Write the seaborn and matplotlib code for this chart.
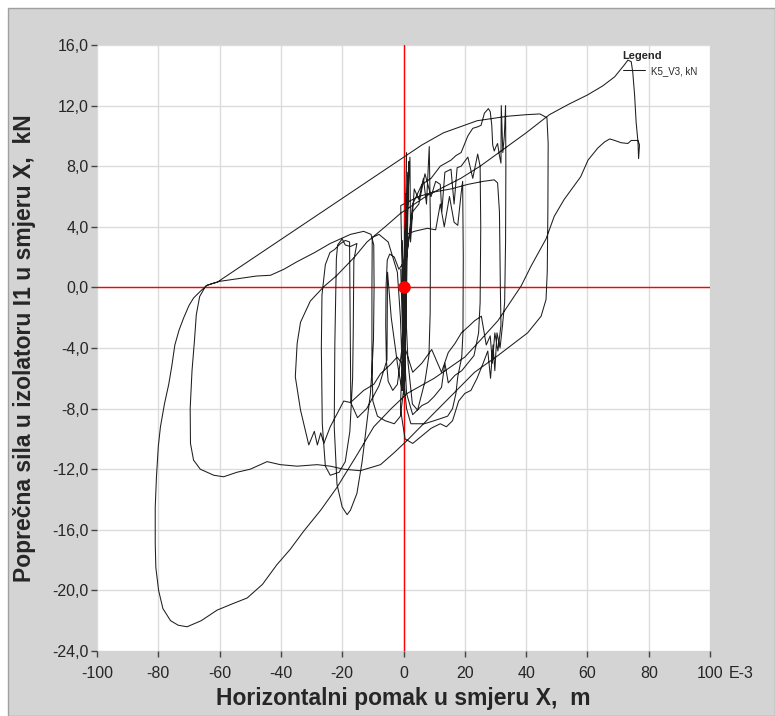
import numpy as np
import pandas as pd
import matplotlib
matplotlib.use('Agg')
import matplotlib.pyplot as plt
import seaborn as sns
from matplotlib.patches import Rectangle
from matplotlib.ticker import FuncFormatter

# --- Data: force/displacement trace, split into the visible branches ---
# x in E-3 m, y in kN
jitter_x = [0, 0.4, -0.3, 0.7, -0.2, 1.0, 0.5, -0.5, 0.9, -0.2, 1.4, 0.2, -0.4, 0.8, 1.7, 0.1, -0.9, 0.5, 1.2, -0.2,
            0.3, -0.3, 0.5, -0.2, 0.6]
jitter_y = [0, 2.6, -3.2, 4.8, -5.4, 8.9, -1.2, -6.6, 6.2, -4.2, 7.6, -7.1, 3.1, -2.6, 8.3, -5.9, 1.2, -4.7, 5.3, -6.8,
            -2.0, -6.0, -1.0, -5.5, 1.8]

left_small_x = [-1.5, -3.0, -4.5, -5.3, -5.7, -5.8, -5.6, -5.0, -3.5, -2.0, -0.5]
left_small_y = [1.2, 2.0, 2.2, 1.8, 0.0, -2.5, -4.8, -6.2, -6.8, -6.4, -4.0]

loop8_x = [0.5, 2.1, 2.3, 3.5, 5.0, 6.5, 7.5, 8.4, 8.8, 8.7, 8.3, 7.0, 4.6, 2.9, 1.5, 0.6]
loop8_y = [2.0, 8.6, 3.0, 6.5, 5.8, 7.2, 5.5, 9.3, 4.0, -1.7, -4.5, -6.2, -8.1, -7.7, -5.0, -1.0]

loop19_x = [1.0, 3.5, 7.8, 10.5, 12.0, 13.3, 15.0, 16.5, 17.7, 18.8, 19.3, 19.5, 19.4, 19.0, 17.7, 17.1, 16.0, 14.4,
            10.0, 6.8, 2.4, 1.0, -0.5]
loop19_y = [3.5, 3.7, 3.9, 3.8, 5.5, 4.0, 6.0, 4.3, 4.1, 6.2, 7.0, 2.0, -3.0, -4.6, -5.9, -7.0, -8.0, -8.5,
            -8.8, -9.0, -9.0, -8.0, -5.0]

loop_m10_x = [-1.0, -2.0, -5.0, -8.0, -10.2, -10.3, -10.3, -10.0, -8.5, -6.0, -3.0, -1.0, 0.5]
loop_m10_y = [-2.0, 1.0, 3.0, 3.5, 3.3, 0.0, -5.0, -7.5, -8.5, -8.8, -9.0, -8.5, -6.0]

loop25_x = [1.0, 3.0, 5.0, 7.0, 9.0, 10.5, 12.0, 12.5, 13.5, 15.5, 16.5, 17.5, 18.8, 21.0, 22.6, 24.2, 25.0, 25.2, 25.0,
            24.5, 23.0, 21.0, 19.0, 16.8, 14.6, 13.5, 12.4, 10.0, 8.0, 6.0, 3.0, 1.0]
loop25_y = [2.0, 5.0, 5.5, 7.5, 6.0, 7.0, 6.8, 5.0, 7.6, 7.8, 5.5, 7.9, 8.0, 8.6, 7.2, 8.8, 8.0, 4.0, -1.0,
            -3.0, -4.5, -5.0, -5.5, -5.8, -6.3, -5.0, -6.6, -7.2, -7.6, -7.8, -8.4, -7.0]

loop31_x = [0.0, -0.9, 2.0, 5.0, 10.0, 15.5, 21.0, 26.0, 29.6, 30.7, 31.3, 31.6, 31.8, 30.8, 29.8, 29.0, 28.3, 27.0,
            25.4, 23.2, 21.1, 18.9, 16.8, 14.6, 12.4, 9.2, 6.0, 3.0, 0.5]
loop31_y = [-3.0, 5.4, 5.7, 6.0, 6.3, 6.5, 6.8, 7.0, 7.1, 6.9, 5.0, 0.0, -2.5, -4.2, -3.0, -5.0, -3.2, -3.8,
            -1.9, -2.2, -2.6, -3.0, -3.7, -4.3, -5.6, -4.1, -5.0, -5.6, -4.0]

loop33_x = [0.5, 1.0, 3.0, 6.0, 9.0, 12.0, 15.5, 17.1, 18.8, 21.0, 22.6, 24.2, 25.3, 26.4, 27.7, 28.3, 28.8, 29.1,
            29.6, 30.2, 30.7, 31.3, 31.8, 31.9, 32.4, 32.9, 33.3, 33.4, 33.3, 33.0, 32.3, 31.5, 30.5, 29.8, 29.2,
            28.4, 27.5, 26.0, 24.0, 22.0, 20.0, 18.0, 16.0, 14.0, 12.0, 9.0, 6.0, 3.0, 0.5, -1.0]
loop33_y = [-4.0, 2.0, 5.5, 6.8, 7.2, 8.0, 8.4, 8.7, 8.9, 10.0, 10.5, 10.6, 10.7, 11.5, 11.8, 11.6, 10.7, 9.4,
            9.0, 9.3, 9.5, 8.7, 8.2, 12.0, 8.9, 10.0, 12.0, 8.0, 3.0, -1.0, -2.5, -4.0, -3.0, -5.5, -3.8,
            -6.0, -4.2, -5.0, -6.0, -6.8, -7.0, -7.5, -8.8, -9.2, -9.0, -9.3, -9.8, -10.3, -10.0, -8.0]

# W-shaped bottom, left turn at -35, rise to the peak
w_loop_x = [-0.5, -2.1, -4.3, -7.5, -9.7, -13.0, -17.3, -19.5, -23.9, -26.0, -27.0, -28.1, -29.1, -30.9, -33.6,
            -35.3, -34.7, -33.6, -30.4, -26.0, -21.7, -16.0, -11.9, -6.0, -0.9, 8.0, 18.7, 25.0, 31.8, 40.0,
            47.6, 54.0, 60.0, 65.0, 68.9, 72.1, 73.2, 74.3, 74.8, 75.4, 75.9, 76.5, 76.7]
w_loop_y = [-5.0, -4.6, -5.1, -5.7, -6.4, -6.8, -7.6, -7.5, -9.2, -10.3, -9.6, -10.4, -9.5, -10.4, -8.1,
            -5.9, -3.7, -2.3, -0.9, 0.05, 0.8, 2.0, 3.0, 4.0, 4.9, 6.1, 7.2, 8.0, 9.0, 10.2,
            11.4, 12.1, 12.7, 13.3, 13.9, 14.7, 15.0, 14.9, 14.2, 12.7, 10.9, 9.6, 8.5]

# unloading branch from the tip down to the lower-left corner and up the left side
outer_x = [77.0, 76.5, 74.3, 73.2, 71.0, 68.9, 67.3, 65.6, 63.4, 60.2, 57.8, 52.4, 49.2, 46.5, 41.6, 38.4, 34.1,
           30.8, 25.0, 20.0, 10.0, 1.2, -4.0, -9.7, -15.0, -21.7, -27.0, -32.6, -37.0, -41.3, -46.0, -51.0,
           -56.0, -60.8, -66.0, -70.6, -73.5, -76.0, -78.5, -79.9, -80.8, -81.0, -81.0, -80.6, -80.0, -79.3,
           -78.0, -76.6, -75.6, -74.6, -73.2, -71.7, -70.0, -68.5, -66.0, -64.0, -60.8]
outer_y = [9.4, 9.7, 9.7, 9.5, 9.55, 9.7, 9.8, 9.6, 9.2, 8.4, 7.3, 5.8, 4.7, 3.2, 1.4, 0.1, -1.2,
           -2.2, -3.5, -4.6, -6.0, -7.0, -8.0, -9.2, -11.0, -13.2, -14.7, -16.1, -17.3, -18.3, -19.6, -20.5,
           -20.9, -21.3, -22.0, -22.4, -22.3, -22.0, -21.2, -20.0, -18.5, -16.9, -14.5, -12.5, -10.5, -9.2,
           -7.7, -6.4, -5.2, -3.8, -2.8, -2.0, -1.2, -0.7, -0.2, 0.15, 0.34]

# straight reloading line, top plateau, drop at 47, lower return
second_x = [0.1, 6.0, 13.0, 24.0, 34.0, 40.0, 44.5, 46.8, 47.2, 47.1, 46.9, 46.5, 44.9, 40.5, 30.8, 23.2, 17.8,
            8.0, 1.2, -3.0, -7.5, -14.1, -19.5, -23.9, -28.2, -34.7, -40.2, -44.5, -50.0, -54.3, -58.7, -61.9,
            -66.3, -68.5, -69.5, -69.6, -69.0, -68.2, -67.6, -66.5, -64.5, -62.5, -60.0, -53.2, -48.0, -43.4,
            -39.0, -34.7, -29.0, -23.9, -17.3, -13.0, -10.6]
second_y = [8.6, 9.4, 10.2, 11.0, 11.3, 11.4, 11.45, 11.2, 9.5, 5.0, 1.0, -0.8, -1.9, -3.0, -4.5, -5.6, -6.7,
            -8.7, -10.1, -10.9, -11.7, -12.1, -12.0, -11.8, -11.7, -11.8, -11.7, -11.5, -12.0, -12.2, -12.5, -12.4,
            -12.0, -11.4, -10.3, -8.0, -5.5, -3.5, -1.8, -0.6, 0.1, 0.25, 0.4, 0.6, 0.75, 0.8,
            1.2, 1.7, 2.3, 2.9, 3.5, 3.7, 3.5]

# narrow loop down to -15 and the inner loops on the left
narrow_x = [-9.7, -9.6, -9.8, -10.3, -10.8, -12.0, -13.5, -15.2, -17.3, -18.4, -20.0, -21.7, -22.6, -22.4, -22.2,
            -21.9, -21.5, -20.0, -19.0, -17.3, -15.2, -16.2, -16.4, -16.6, -17.5, -19.0, -21.0, -23.9, -25.5,
            -26.5, -26.8, -26.6, -25.5, -24.0, -22.5, -20.5, -19.0, -17.6, -17.4, -17.2, -15.0, -12.0, -8.0,
            -5.4, -5.2, -4.0, -2.0, -0.5, 0.5, -0.3, 0.4, 0.0]
narrow_y = [2.8, 0.0, -3.5, -5.5, -7.0, -9.0, -11.5, -13.6, -14.7, -15.0, -14.5, -13.0, -9.2, -3.7, -1.6,
            1.9, 2.8, 3.2, 2.8, 2.7, 2.9, 1.8, -3.0, -6.0, -9.5, -11.5, -12.2, -12.4, -11.8,
            -9.0, -4.0, -0.5, 1.5, 2.3, 2.5, 2.9, 3.1, 3.0, -2.0, -7.6, -8.6, -8.0, -6.5,
            -4.8, 1.0, -2.0, -5.0, -6.8, -3.0, -6.5, -2.5, 0.0]

segments = [(jitter_x, jitter_y), (left_small_x, left_small_y), (loop8_x, loop8_y), (loop19_x, loop19_y),
            (loop_m10_x, loop_m10_y), (loop25_x, loop25_y), (loop31_x, loop31_y), (loop33_x, loop33_y),
            (w_loop_x, w_loop_y), (outer_x, outer_y), (second_x, second_y), (narrow_x, narrow_y)]
path_x = np.concatenate([s[0] for s in segments])
path_y = np.concatenate([s[1] for s in segments])
df = pd.DataFrame({'step': np.arange(len(path_x)), 'x': path_x, 'y': path_y})

x_ticks = [-100, -80, -60, -40, -20, 0, 20, 40, 60, 80, 100]
y_ticks = [-24, -20, -16, -12, -8, -4, 0, 4, 8, 12, 16]

# --- Style ---
sns.set_style('white')
plt.rcParams['font.family'] = ['Liberation Sans', 'DejaVu Sans']
TICK_SIZE = 11.5
LABEL_SIZE = 16.5

fig = plt.figure(figsize=(7.75, 7.16), dpi=100, facecolor='white')
# grey panel behind the plot area
fig.add_artist(Rectangle((8 / 775, 0), 1 - 8 / 775, 1 - 8 / 716, transform=fig.transFigure,
                         facecolor='#d4d4d4', edgecolor='#a0a0a0', linewidth=1, zorder=-10))
ax = fig.add_axes([97 / 775, 1 - 651 / 716, 613 / 775, 606 / 716])
ax.set_zorder(1)
ax.set_facecolor('white')

ax.axhline(0, color='red', lw=1, zorder=1)
ax.axvline(0, color='red', lw=1, zorder=1)

sns.lineplot(data=df, x='x', y='y', sort=False, estimator=None, color='#1e1e1e', lw=0.75,
             label='K5_V3, kN', ax=ax, zorder=3)
ax.plot(path_x[0], path_y[0], 'o', color='red', ms=8, zorder=5)

ax.set_xlim(-100, 100)
ax.set_ylim(-24, 16)
ax.set_xticks(x_ticks)
ax.set_yticks(y_ticks)
ax.yaxis.set_major_formatter(FuncFormatter(lambda v, p: f'{v:.1f}'.replace('.', ',')))
ax.xaxis.set_major_formatter(FuncFormatter(lambda v, p: f'{v:.0f}'))
ax.grid(True, color='#dcdcdc', lw=1)
ax.set_axisbelow(True)
for s in ax.spines.values():
    s.set_visible(False)
ax.tick_params(axis='both', length=4, width=1, color='#444444', labelsize=TICK_SIZE,
               left=True, bottom=True)
ax.tick_params(axis='x', pad=7)
ax.tick_params(axis='y', pad=2)

ax.set_xlabel('Horizontalni pomak u smjeru X,  m', fontsize=LABEL_SIZE, fontweight='bold', labelpad=4)
ax.set_ylabel('Poprečna sila u izolatoru I1 u smjeru X,  kN', fontsize=LABEL_SIZE, fontweight='bold',
              labelpad=12)
ax.text(1.031, -0.0375, 'E-3', transform=ax.transAxes, fontsize=TICK_SIZE, va='center', ha='left')

leg = ax.legend(loc='upper left', bbox_to_anchor=(0.848, 1.0), frameon=False, title='Legend',
                fontsize=7, title_fontproperties={'weight': 'bold', 'size': 8}, handlelength=2.3,
                borderpad=0.1, handletextpad=0.6)
leg._legend_box.align = 'left'

fig.savefig('out.png', dpi=100, facecolor=fig.get_facecolor())
